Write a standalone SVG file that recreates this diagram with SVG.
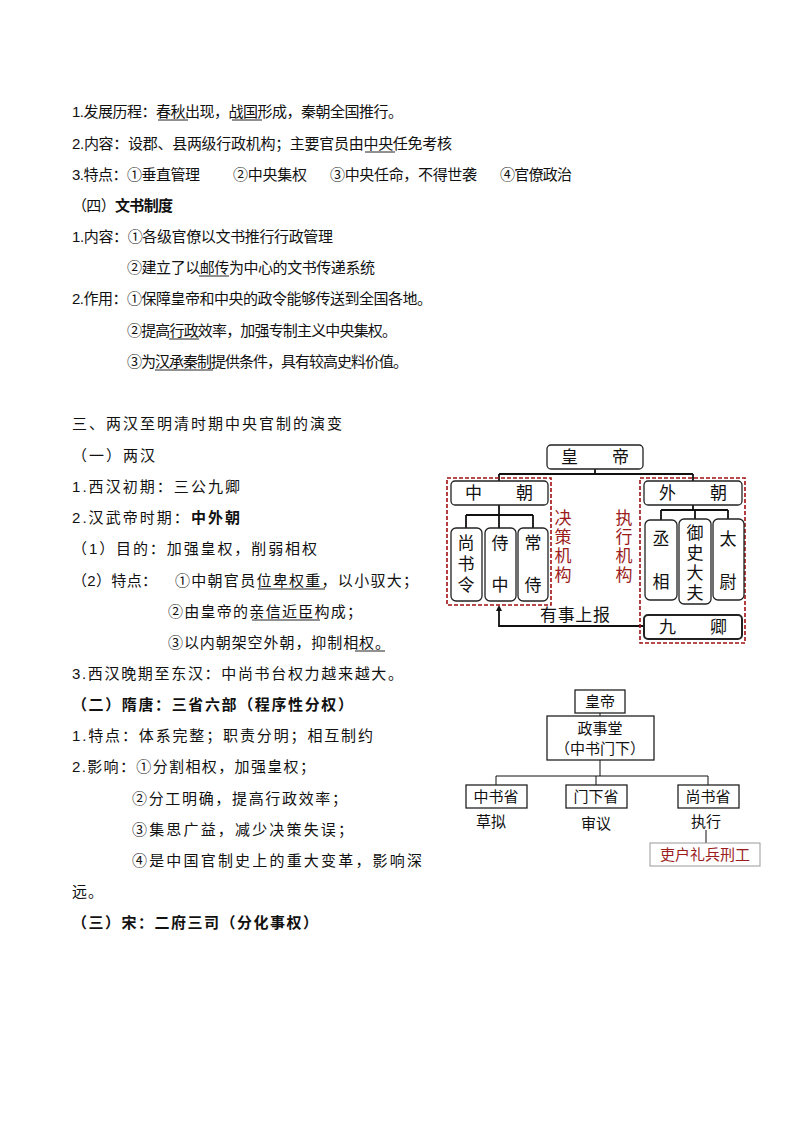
<svg xmlns="http://www.w3.org/2000/svg" width="794" height="1123" viewBox="0 0 794 1123">
<style>
text{font-family:"Liberation Sans","Noto Sans CJK SC",sans-serif;font-size:15px;fill:#111}
.b{font-weight:bold}
.u{stroke:#222;stroke-width:1}
.box{fill:#fff;stroke:#222;stroke-width:1.3}
.rb{fill:#fff;stroke:#222;stroke-width:1.3}
.ln{fill:none;stroke:#111;stroke-width:1.8}
.ln2{fill:none;stroke:#111;stroke-width:1}
.dash{fill:none;stroke:#a01010;stroke-width:1.6;stroke-dasharray:4,2}
.red{fill:#9b1c1c}
.d text{font-size:17px}
.c{text-anchor:middle}
</style>
<defs><marker id="ah" markerWidth="6" markerHeight="6" refX="3" refY="3" orient="auto" markerUnits="userSpaceOnUse"><path d="M0,0 L6,3 L0,6 z" fill="#111"/></marker></defs>
<g id="text1">
<text x="72" y="117" textLength="331" lengthAdjust="spacing">1.发展历程：春秋出现，战国形成，秦朝全国推行。</text>
<text x="72" y="149" textLength="380" lengthAdjust="spacing">2.内容：设郡、县两级行政机构；主要官员由中央任免考核</text>
<text x="72" y="180" textLength="128" lengthAdjust="spacing">3.特点：①垂直管理</text>
<text x="233" y="180" textLength="74" lengthAdjust="spacing">②中央集权</text>
<text x="330" y="180" textLength="147" lengthAdjust="spacing">③中央任命，不得世袭</text>
<text x="500" y="180" textLength="72" lengthAdjust="spacing">④官僚政治</text>
<text x="72" y="211" textLength="101" lengthAdjust="spacing">（四）<tspan class="b">文书制度</tspan></text>
<text x="72" y="242" textLength="261" lengthAdjust="spacing">1.内容：①各级官僚以文书推行行政管理</text>
<text x="127" y="273" textLength="248" lengthAdjust="spacing">②建立了以邮传为中心的文书传递系统</text>
<text x="72" y="304" textLength="360" lengthAdjust="spacing">2.作用：①保障皇帝和中央的政令能够传送到全国各地。</text>
<text x="127" y="336" textLength="270" lengthAdjust="spacing">②提高行政效率，加强专制主义中央集权。</text>
<text x="127" y="367" textLength="281" lengthAdjust="spacing">③为汉承秦制提供条件，具有较高史料价值。</text>
<text x="72" y="429" textLength="270" lengthAdjust="spacing">三、两汉至明清时期中央官制的演变</text>
<text x="72" y="461" textLength="83" lengthAdjust="spacing">（一）两汉</text>
<text x="72" y="492" textLength="168" lengthAdjust="spacing">1.西汉初期：三公九卿</text>
<text x="72" y="523" textLength="168" lengthAdjust="spacing">2.汉武帝时期：<tspan class="b">中外朝</tspan></text>
<text x="72" y="554" textLength="245" lengthAdjust="spacing">（1）目的：加强皇权，削弱相权</text>
<text x="72" y="586" textLength="85" lengthAdjust="spacing">（2）特点：</text>
<text x="175" y="586" textLength="243" lengthAdjust="spacing">①中朝官员位卑权重，以小驭大；</text>
<text x="168" y="617" textLength="194" lengthAdjust="spacing">②由皇帝的亲信近臣构成；</text>
<text x="168" y="648" textLength="222" lengthAdjust="spacing">③以内朝架空外朝，抑制相权。</text>
<text x="72" y="679" textLength="331" lengthAdjust="spacing">3.西汉晚期至东汉：中尚书台权力越来越大。</text>
<text x="72" y="710" class="b" textLength="281" lengthAdjust="spacing">（二）隋唐：三省六部（程序性分权）</text>
<text x="72" y="741" textLength="301" lengthAdjust="spacing">1.特点：体系完整；职责分明；相互制约</text>
<text x="72" y="772" textLength="243" lengthAdjust="spacing">2.影响：①分割相权，加强皇权；</text>
<text x="132" y="804" textLength="215" lengthAdjust="spacing">②分工明确，提高行政效率；</text>
<text x="132" y="835" textLength="221" lengthAdjust="spacing">③集思广益，减少决策失误；</text>
<text x="132" y="866" textLength="290" lengthAdjust="spacing">④是中国官制史上的重大变革，影响深</text>
<text x="72" y="897" textLength="31" lengthAdjust="spacing">远。</text>
<text x="72" y="928" class="b" textLength="246" lengthAdjust="spacing">（三）宋：二府三司（分化事权）</text>
<g class="u">
<line x1="158" y1="120" x2="188" y2="120"/><line x1="232" y1="120" x2="262" y2="120"/>
<line x1="365" y1="152" x2="395" y2="152"/><line x1="199" y1="276" x2="229" y2="276"/>
<line x1="169" y1="339" x2="199" y2="339"/><line x1="155" y1="370" x2="213" y2="370"/>
<line x1="258" y1="589" x2="325" y2="589"/><line x1="252" y1="620" x2="320" y2="620"/>
<line x1="355" y1="651" x2="385" y2="651"/>
</g>
</g>
<g id="connectors">
<path class="ln" d="M595,469 V474 M499,474 H693 M499,474 V481 M693,474 V481"/>
<path class="ln" d="M499,505 V515 M466,515 H533 M466,515 V528 M499,515 V528 M533,515 V528"/>
<path class="ln" d="M693,505 V510 M661,510 H728 M661,510 V520 M695,510 V519 M728,510 V519"/>
<path class="ln" d="M644,626 H499 V608" marker-end="url(#ah)"/>
<path class="ln2" d="M600,713 V716 M600,760 V776 M496,776 H708 M496,776 V785 M596,776 V785 M708,776 V785 M706,830 V843"/>
</g>
<g class="d">
<g id="n_hd"><rect class="box" x="547" y="445" width="96" height="24" rx="4"/><text class="c" x="595" y="463">皇　　帝</text></g>
<g id="g_zc"><rect class="dash" x="447" y="478" width="104" height="127"/></g>
<g id="g_wc"><rect class="dash" x="640" y="478" width="105" height="165"/></g>
<g id="n_zc"><rect class="box" x="451" y="481" width="97" height="24" rx="4"/><text class="c" x="499" y="499">中　　朝</text></g>
<g id="n_wc"><rect class="box" x="644" y="481" width="98" height="24" rx="4"/><text class="c" x="693" y="499">外　　朝</text></g>
<g id="n_ssl"><rect class="box" x="451" y="528" width="31" height="73" rx="5"/><text class="c" x="466" y="549">尚</text><text class="c" x="466" y="570">书</text><text class="c" x="466" y="591">令</text></g>
<g id="n_sz"><rect class="box" x="485" y="528" width="31" height="73" rx="5"/><text class="c" x="500" y="549">侍</text><text class="c" x="500" y="591">中</text></g>
<g id="n_cs"><rect class="box" x="518" y="528" width="30" height="73" rx="5"/><text class="c" x="533" y="549">常</text><text class="c" x="533" y="591">侍</text></g>
<g id="n_jc"><text class="c red" x="563" y="524">决</text><text class="c red" x="563" y="543">策</text><text class="c red" x="563" y="562">机</text><text class="c red" x="563" y="581">构</text></g>
<g id="n_zx"><text class="c red" x="624" y="524">执</text><text class="c red" x="624" y="543">行</text><text class="c red" x="624" y="562">机</text><text class="c red" x="624" y="581">构</text></g>
<g id="n_cx"><rect class="box" x="645" y="520" width="32" height="80" rx="5"/><text class="c" x="661" y="545">丞</text><text class="c" x="661" y="588">相</text></g>
<g id="n_ysdf"><rect class="box" x="679" y="519" width="32" height="85" rx="5"/><text class="c" x="695" y="539">御</text><text class="c" x="695" y="559">史</text><text class="c" x="695" y="579">大</text><text class="c" x="695" y="599">夫</text></g>
<g id="n_tw"><rect class="box" x="713" y="519" width="31" height="81" rx="5"/><text class="c" x="728" y="545">太</text><text class="c" x="728" y="588">尉</text></g>
<g id="n_jq"><rect class="box" x="644" y="615" width="98" height="24" rx="4" style="stroke-width:2"/><text class="c" x="693" y="633">九　　卿</text></g>
<text class="c" x="575" y="621" textLength="70" lengthAdjust="spacing">有事上报</text>
</g>
<g id="n2_hd"><rect class="rb" x="575" y="690" width="50" height="23"/><text class="c" x="600" y="707">皇帝</text></g>
<g id="n2_zst"><rect class="rb" x="547" y="716" width="107" height="44"/><text class="c" x="600" y="734">政事堂</text><text class="c" x="600" y="754">（中书门下）</text></g>
<g id="n2_zs"><rect class="rb" x="466" y="785" width="61" height="23"/><text class="c" x="496" y="802">中书省</text><text class="c" x="491" y="827">草拟</text></g>
<g id="n2_mx"><rect class="rb" x="566" y="785" width="61" height="23"/><text class="c" x="596" y="802">门下省</text><text class="c" x="596" y="829">审议</text></g>
<g id="n2_ss"><rect class="rb" x="678" y="785" width="61" height="23"/><text class="c" x="708" y="802">尚书省</text><text class="c" x="706" y="827">执行</text></g>
<g id="n2_lb"><rect x="650" y="843" width="110" height="23" fill="#fff" stroke="#999"/><text class="c red" x="705" y="860">吏户礼兵刑工</text></g>
</svg>
